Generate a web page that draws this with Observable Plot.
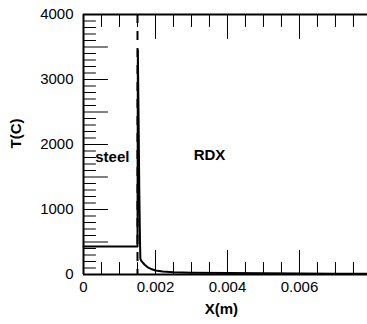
<!DOCTYPE html>
<html>
<head>
<meta charset="utf-8">
<script src="https://cdn.jsdelivr.net/npm/d3@7"></script>
<script src="https://cdn.jsdelivr.net/npm/@observablehq/plot@0.6"></script>
<style>
  html, body { margin: 0; padding: 0; background: #fff; }
  #chart svg { display: block; font-family: "Liberation Sans", Arial, sans-serif; }
</style>
</head>
<body>
<div id="chart"></div>
<script>
// Temperature profile across the steel / RDX interface
const xPos  = [0, 0.0015, 0.0015, 0.00151, 0.00153, 0.00155, 0.00157, 0.00158, 0.0016, 0.0017, 0.0018, 0.0019, 0.002, 0.0022, 0.0025, 0.003, 0.004, 0.005, 0.006, 0.007, 0.0079];
const tempC = [430, 430, 430, 3450, 2400, 1300, 500, 240, 215, 150, 105, 80, 62, 45, 35, 27, 22, 18, 15, 13, 12];

const interfaceX = 0.0015;
const xTicks = [0, 0.002, 0.004, 0.006];
const xTickLabels = ["0", "0.002", "0.004", "0.006"];
const yTicks = [0, 1000, 2000, 3000, 4000];
const yTickLabels = ["0", "1000", "2000", "3000", "4000"];
const yMinor = d3.range(0, 4001, 100);
const xMinor = d3.range(0, 0.0079, 0.0005);
const regionLabels = [
  {x: 0.0008, y: 1800, text: "steel"},
  {x: 0.0035, y: 1840, text: "RDX"}
];

const profile = xPos.map((x, i) => ({x, t: tempC[i]}));

// straight tick stroke drawn by the vector mark
const tickShape = {draw(ctx, l) { ctx.moveTo(0, 0); ctx.lineTo(0, -l); }};

const chart = Plot.plot({
  width: 367,
  height: 324,
  marginLeft: 83,
  marginRight: 0,
  marginTop: 14,
  marginBottom: 50,
  style: {fontSize: "15px", fontFamily: "Liberation Sans, Arial, sans-serif", color: "#000", background: "#fff"},
  x: {domain: [0, 0.00789]},
  y: {domain: [0, 4000]},
  marks: [
    // frame
    Plot.ruleX([0], {strokeWidth: 2}),
    Plot.ruleY([0], {strokeWidth: 2}),
    Plot.ruleY([4000], {strokeWidth: 2}),
    // interface
    Plot.ruleX([interfaceX], {strokeWidth: 2, strokeDasharray: "9,8"}),
    // inward ticks
    Plot.vector(yMinor, {x: 0, y: d => d, rotate: 90, anchor: "start", length: d => d % 500 === 0 ? 6 : 3, shape: tickShape, strokeWidth: 1}),
    Plot.vector(xMinor, {x: d => d, y: 0, rotate: 0, anchor: "start", length: (d, i) => i % 4 === 0 ? 6 : 3, shape: tickShape, strokeWidth: 1}),
    Plot.vector(xMinor, {x: d => d, y: 4000, rotate: 180, anchor: "start", length: (d, i) => i % 4 === 0 ? 6 : 3, shape: tickShape, strokeWidth: 1}),
    // tick labels
    Plot.axisY(yTicks, {tickSize: 0, tickPadding: 10, label: null, fontSize: 15, tickFormat: (d, i) => yTickLabels[i]}),
    Plot.axisX(xTicks, {tickSize: 0, tickPadding: 7, label: null, fontSize: 15, tickFormat: (d, i) => xTickLabels[i]}),
    // temperature curve
    Plot.line(profile, {x: "x", y: "t", stroke: "#000", strokeWidth: 2, curve: "linear"}),
    // region labels
    Plot.text(regionLabels, {x: "x", y: "y", text: "text", fontWeight: "bold", fontSize: 15}),
    // axis titles
    Plot.text(["X(m)"], {frameAnchor: "bottom", dy: 39, x: 0.00383, fontWeight: "bold", fontSize: 15}),
    Plot.text(["T(C)"], {frameAnchor: "left", dx: -67, rotate: -90, fontWeight: "bold", fontSize: 15, dy: 4})
  ]
});
document.getElementById("chart").appendChild(chart);
</script>
</body>
</html>
